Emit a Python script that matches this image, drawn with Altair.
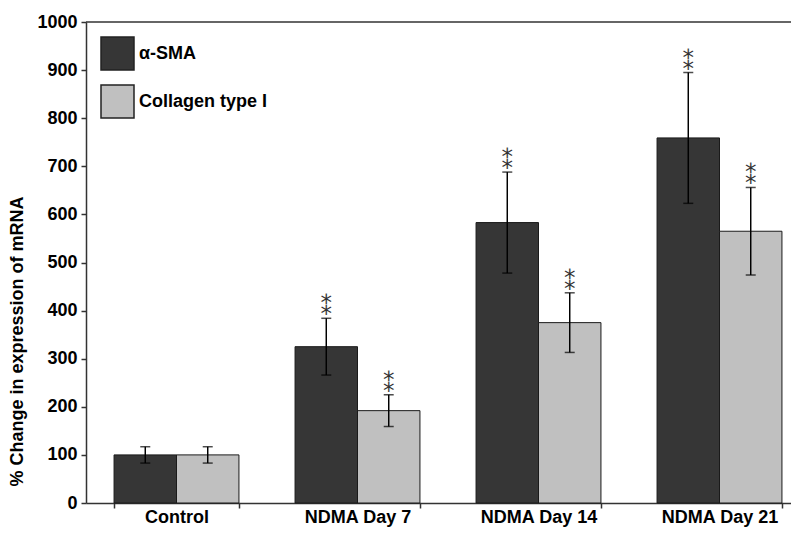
import altair as alt
import pandas as pd

groups = ["Control", "NDMA Day 7", "NDMA Day 14", "NDMA Day 21"]
series = ["α-SMA", "Collagen type I"]
sma_mean = [100, 325, 583, 759]
sma_err = [17, 59, 105, 136]
col_mean = [100, 192, 375, 565]
col_err = [17, 33, 62, 91]
significant = [False, True, True, True]
y_ticks = [0, 100, 200, 300, 400, 500, 600, 700, 800, 900, 1000]

rows = []
for i, g in enumerate(groups):
    for s, m, e in ((series[0], sma_mean[i], sma_err[i]), (series[1], col_mean[i], col_err[i])):
        rows.append(dict(group=g, series=s, mean=m, lo=m - e, hi=m + e, star=significant[i]))
df = pd.DataFrame(rows)

FONT = "Liberation Sans"
PLOT_H = 481

x = alt.X("group:N", sort=groups,
          scale=alt.Scale(range=[0, 724], paddingInner=0.31, paddingOuter=0.155),
          axis=alt.Axis(title=None, labelAngle=0, tickBand="extent", labelPadding=0))
xo = alt.XOffset("series:N", sort=series, scale=alt.Scale(paddingInner=0, paddingOuter=0))
yscale = alt.Scale(domain=[0, 1000], nice=False)

base = alt.Chart(df)

bars = base.mark_bar(stroke="#1a1a1a", strokeWidth=1).encode(
    x=x, xOffset=xo,
    y=alt.Y("mean:Q", scale=yscale,
            axis=alt.Axis(values=y_ticks, format="d", title="% Change in expression of mRNA",
                          titleX=-64, titleY=319, titleAngle=270, titleAlign="center",
                          titleBaseline="alphabetic", labelPadding=4)),
    color=alt.Color("series:N", sort=series,
                    scale=alt.Scale(domain=series, range=["#363636", "#c0c0c0"]),
                    legend=alt.Legend(title=None, orient="none", legendX=14, legendY=14,
                                      symbolType="square", symbolSize=1089,
                                      symbolStrokeColor="#222222", symbolStrokeWidth=1.5,
                                      labelFont=FONT, labelFontSize=18, labelFontWeight="bold",
                                      labelColor="black", rowPadding=9, labelOffset=4)),
)

top_line = alt.Chart(pd.DataFrame({"v": [1000]})).mark_rule(color="#333333", strokeWidth=1.5).encode(
    y=alt.Y("v:Q", scale=yscale))

rules = base.mark_rule(color="black", strokeWidth=1.5).encode(
    x=x, xOffset=xo, y=alt.Y("lo:Q", scale=yscale), y2="hi:Q")
cap_hi = base.mark_tick(color="black", thickness=1.5, size=10).encode(
    x=x, xOffset=xo, y=alt.Y("hi:Q", scale=yscale))
cap_lo = base.mark_tick(color="black", thickness=1.5, size=10).encode(
    x=x, xOffset=xo, y=alt.Y("lo:Q", scale=yscale))

stars = base.mark_text(text="⁑", font="DejaVu Sans", fontSize=23, color="#333333",
                       baseline="alphabetic", dy=-3).encode(
    x=x, xOffset=xo, y=alt.Y("hi:Q", scale=yscale)).transform_filter("datum.star")

chart = alt.layer(bars, top_line, rules, cap_hi, cap_lo, stars).properties(
    width=705, height=PLOT_H,
    autosize=alt.AutoSizeParams(type="none"),
    padding={"left": 78, "top": 14, "right": 0, "bottom": 24},
).configure_view(
    strokeWidth=0
).configure_axis(
    grid=False, domainColor="#333333", domainWidth=1.5,
    tickColor="#333333", tickWidth=1.5, tickSize=5,
    labelFont=FONT, labelFontSize=18, labelFontWeight="bold", labelColor="black",
    titleFont=FONT, titleFontSize=18, titleFontWeight="bold", titleColor="black",
)

chart.save("out.html", embed_options={"renderer": "svg", "actions": False})
